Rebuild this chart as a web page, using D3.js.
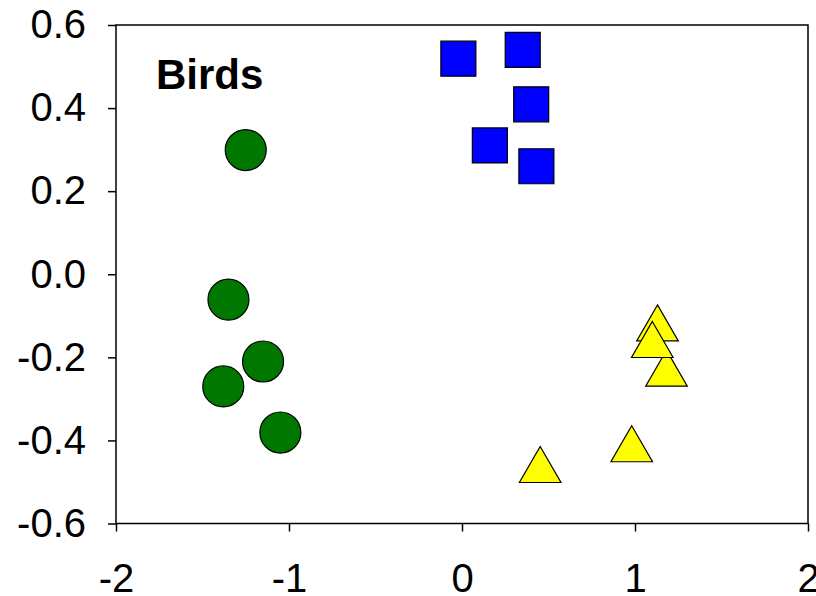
<!DOCTYPE html>
<html>
<head>
<meta charset="utf-8">
<script src="https://cdn.jsdelivr.net/npm/d3@7"></script>
<style>
  html, body { margin: 0; padding: 0; background: #fff; }
  svg { display: block; }
</style>
</head>
<body>
<svg id="chart" width="816" height="596"></svg>
<script>
// ---- data ----
const xTicks = [-2, -1, 0, 1, 2];
const xTickLabels = ["-2", "-1", "0", "1", "2"];
const yTicks = [-0.6, -0.4, -0.2, 0.0, 0.2, 0.4, 0.6];
const yTickLabels = ["-0.6", "-0.4", "-0.2", "0.0", "0.2", "0.4", "0.6"];

const circleX = [-1.25, -1.35, -1.15, -1.38, -1.05];
const circleY = [0.299, -0.061, -0.210, -0.270, -0.381];

const squareX = [-0.021, 0.351, 0.400, 0.161, 0.430];
const squareY = [0.519, 0.540, 0.409, 0.310, 0.260];

const triangleX = [1.130, 1.182, 1.100, 0.981, 0.452];
const triangleY = [-0.117, -0.226, -0.157, -0.408, -0.458];

const title = "Birds";

// ---- layout ----
const svg = d3.select("#chart");
const pLeft = 116, pRight = 808, pTop = 25, pBottom = 523.5;
const x = d3.scaleLinear().domain([-2, 2]).range([pLeft, pRight]);
const y = d3.scaleLinear().domain([-0.6, 0.6]).range([pBottom, pTop]);

const font = "'Liberation Sans', Arial, Helvetica, sans-serif";

// axes
const gy = svg.append("g").attr("transform", `translate(${pLeft},0)`)
  .call(d3.axisLeft(y).tickValues(yTicks).tickFormat((d, i) => yTickLabels[i])
    .tickSize(8).tickSizeOuter(0).tickPadding(22));
const gx = svg.append("g").attr("transform", `translate(0,${pBottom})`)
  .call(d3.axisBottom(x).tickValues(xTicks).tickFormat((d, i) => xTickLabels[i])
    .tickSize(8).tickSizeOuter(0).tickPadding(32));
[gx, gy].forEach(g => {
  g.select(".domain").remove();
  g.selectAll(".tick line").attr("stroke", "#000").attr("stroke-width", 1.5);
  g.selectAll(".tick text").attr("fill", "#000").style("font-family", font).style("font-size", "40px");
});

// frame
svg.append("rect")
  .attr("x", pLeft).attr("y", pTop)
  .attr("width", pRight - pLeft).attr("height", pBottom - pTop)
  .attr("fill", "none").attr("stroke", "#000").attr("stroke-width", 1.5);

// markers
const circleSym = d3.symbol(d3.symbolCircle, Math.PI * 20.5 * 20.5);
const squareSym = d3.symbol(d3.symbolSquare, 35 * 35);
const triType = {
  draw(ctx, w) {
    const h = w * Math.sqrt(3) / 2;
    ctx.moveTo(0, -h / 2);
    ctx.lineTo(w / 2, h / 2);
    ctx.lineTo(-w / 2, h / 2);
    ctx.closePath();
  }
};
const triSym = d3.symbol(triType, 41.6);

function drawSeries(xs, ys, sym, fill) {
  svg.append("g").selectAll("path")
    .data(xs.map((v, i) => [v, ys[i]]))
    .join("path")
    .attr("transform", d => `translate(${x(d[0])},${y(d[1])})`)
    .attr("d", sym)
    .attr("fill", fill)
    .attr("stroke", "#000")
    .attr("stroke-width", 1.2);
}
drawSeries(circleX, circleY, circleSym, "#007800");
drawSeries(squareX, squareY, squareSym, "#0000ff");
drawSeries(triangleX, triangleY, triSym, "#ffff00");

// title
svg.append("text")
  .attr("x", 156).attr("y", 89)
  .style("font-family", font).style("font-size", "42px").style("font-weight", "bold")
  .attr("fill", "#000")
  .text(title);
</script>
</body>
</html>
